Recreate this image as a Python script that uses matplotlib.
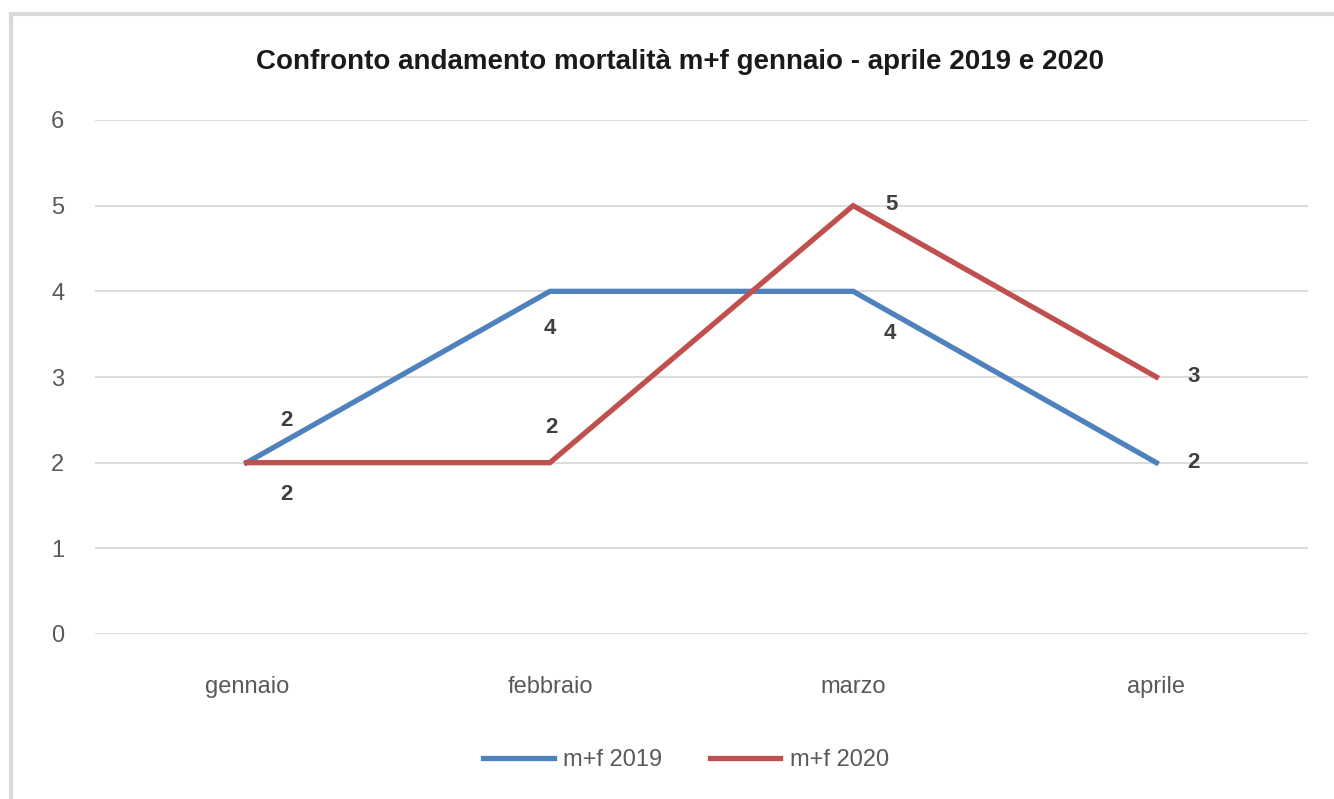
import matplotlib.pyplot as plt
from matplotlib.lines import Line2D

# Daten
mesi = ['gennaio', 'febbraio', 'marzo', 'aprile']
m_f_2019 = [2, 4, 4, 2]
m_f_2020 = [2, 2, 5, 3]

plt.rcParams['font.family'] = ['Liberation Sans', 'DejaVu Sans']

W, H = 1334, 799
fig = plt.figure(figsize=(W / 100, H / 100), dpi=100)
ax = fig.add_axes([95 / W, 1 - 634 / H, (1308 - 95) / W, (634 - 120) / H])

x = range(len(mesi))
ax.plot(x, m_f_2019, color='#4F81BD', lw=3.8, label='m+f 2019', solid_joinstyle='miter', zorder=3)
ax.plot(x, m_f_2020, color='#C0504D', lw=3.8, label='m+f 2020', solid_joinstyle='miter', zorder=3)

# Beschriftungen der Datenpunkte (Offset in Pixeln)
off_2019 = [(40, 42), (0, -37), (37, -42), (37, 0)]
off_2020 = [(40, -32), (2, 35), (38, 1), (37, 0)]
for i, v in enumerate(m_f_2019):
    ax.annotate(str(v), (i, v), xytext=off_2019[i], textcoords='offset pixels',
                ha='center', va='center', fontsize=16, fontweight='bold', color='#404040')
for i, v in enumerate(m_f_2020):
    ax.annotate(str(v), (i, v), xytext=off_2020[i], textcoords='offset pixels',
                ha='center', va='center', fontsize=16, fontweight='bold', color='#404040')

ax.set_xlim(-0.5, len(mesi) - 0.5)
ax.set_ylim(0, 6)
ax.set_xticks(list(x))
ax.set_xticklabels(mesi)
ax.set_yticks(range(7))
ax.grid(axis='y', color='#D9D9D9', lw=1.3)
ax.set_axisbelow(True)
for s in ax.spines.values():
    s.set_visible(False)
ax.tick_params(length=0, labelsize=17, labelcolor='#595959')
ax.tick_params(axis='x', pad=30)
ax.tick_params(axis='y', pad=22)

fig.text(680 / W, 1 - 62 / H, 'Confronto andamento mortalità m+f gennaio - aprile 2019 e 2020',
         ha='center', va='center', fontsize=20, fontweight='bold', color='#1a1a1a')

fig.legend(loc='center', bbox_to_anchor=(686 / W, 1 - 760 / H), ncol=2, frameon=False,
           fontsize=17, labelcolor='#595959', handlelength=3.0, columnspacing=2.0, handletextpad=0.4)

# Rahmen
fig.add_artist(Line2D([9 / W, 1], [1 - 13.5 / H, 1 - 13.5 / H], color='#D9D9D9', lw=3,
                      solid_capstyle='butt', transform=fig.transFigure))
fig.add_artist(Line2D([10.5 / W, 10.5 / W], [0, 1 - 12 / H], color='#D9D9D9', lw=3,
                      solid_capstyle='butt', transform=fig.transFigure))

fig.savefig('out.png', dpi=100)
